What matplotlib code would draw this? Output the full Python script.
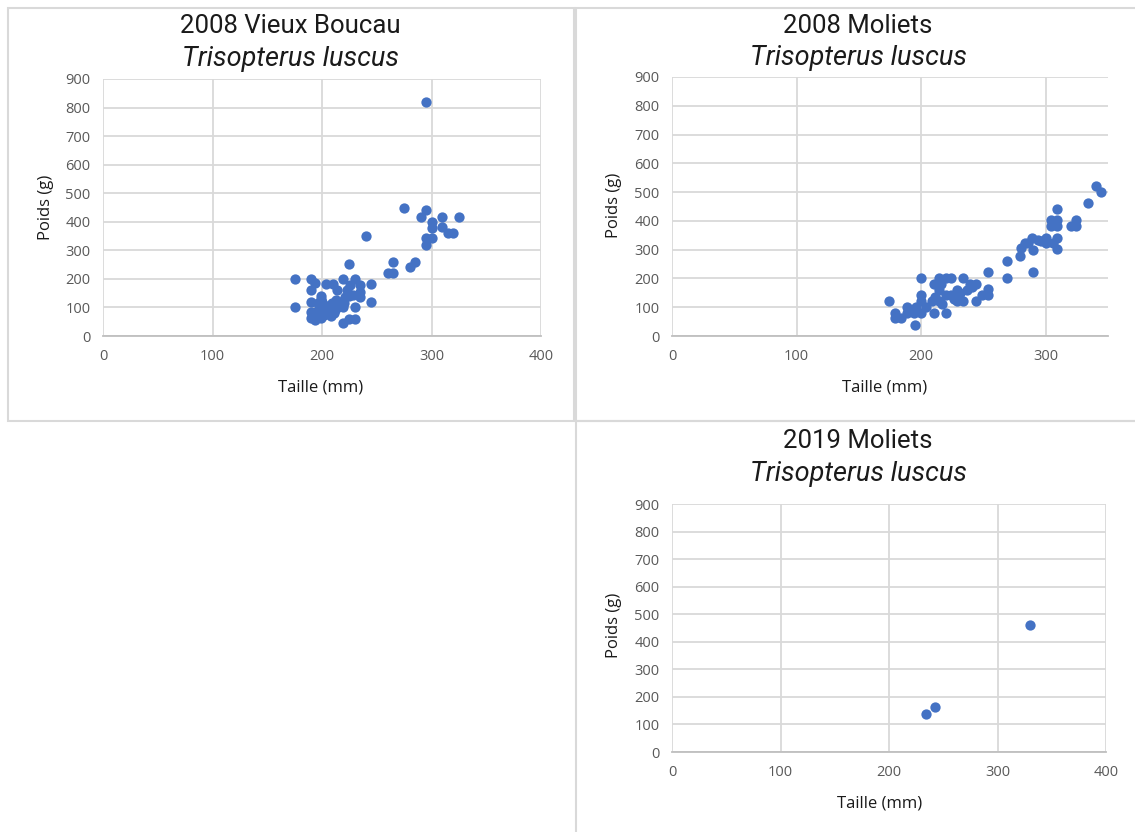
import matplotlib.pyplot as plt
from matplotlib.patches import Rectangle

# Vieux Boucau 2008 - taille (mm), poids (g)
vb_taille = [295, 275, 295, 290, 310, 325, 300, 300, 310, 315, 320, 295, 300, 295,
             240, 265, 285, 280, 260, 265, 225, 175, 175, 190, 190, 190, 190, 194,
             204, 210, 219, 230, 226, 235, 245, 235, 235, 225, 214, 199, 245, 230,
             219, 200, 209, 206, 199, 219, 225, 230, 194, 203, 211, 216, 221, 190,
             196, 194, 200, 205, 213, 220, 199, 208, 215, 223, 228, 202, 197, 212]
vb_poids = [820, 450, 442, 418, 418, 418, 400, 378, 383, 362, 362, 342, 342, 319,
            350, 260, 260, 240, 220, 220, 251, 199, 100, 199, 161, 120, 62, 185,
            181, 181, 199, 199, 179, 179, 181, 155, 138, 141, 161, 141, 118, 100,
            100, 120, 115, 85, 62, 44, 58, 58, 85, 103, 80, 120, 138, 85,
            115, 56, 95, 105, 125, 115, 130, 70, 100, 160, 145, 75, 110, 90]

# Moliets 2008
mo08_taille = [340, 344, 334, 309, 304, 309, 304, 309, 320, 324, 324, 309, 300, 294,
               289, 286, 283, 290, 280, 279, 309, 300, 306, 296, 269, 269, 290, 254,
               254, 254, 249, 244, 244, 239, 234, 237, 234, 229, 229, 224, 220, 214,
               210, 216, 214, 220, 224, 211, 209, 214, 220, 210, 200, 200, 200, 200,
               204, 196, 189, 194, 195, 174, 179, 179, 184, 189, 217, 231, 241, 226]
mo08_poids = [520, 500, 462, 441, 402, 402, 381, 381, 381, 402, 381, 340, 340, 334,
              340, 323, 323, 300, 305, 279, 302, 323, 323, 329, 259, 200, 221, 221,
              163, 143, 143, 120, 180, 180, 201, 160, 120, 120, 160, 201, 201, 201,
              180, 180, 160, 143, 143, 137, 120, 120, 79, 79, 200, 143, 120, 79,
              100, 100, 100, 79, 38, 120, 79, 62, 62, 79, 110, 150, 170, 130]

# Moliets 2019
mo19_taille = [234, 242, 330]
mo19_poids = [138, 165, 460]

x_ticks = [0, 100, 200, 300, 400]
y_ticks = [0, 100, 200, 300, 400, 500, 600, 700, 800, 900]

bleu = '#4472C4'
gris = '#D9D9D9'
tick_col = '#595959'

fig = plt.figure(figsize=(11.35, 8.32), dpi=100)

# chart area borders
for (x0, y0, x1, y1) in [(8, 8, 574, 421), (576, 8, 1140, 421), (576, 421, 1140, 840)]:
    fig.patches.append(Rectangle((x0 / 1135, 1 - y1 / 832), (x1 - x0) / 1135, (y1 - y0) / 832,
                                 transform=fig.transFigure, fill=False,
                                 edgecolor=gris, linewidth=1.5))


def panel(rect, taille, poids, titre, xmax, tx, ty1, ty2, ylx, yly, xlx, xly):
    ax = fig.add_axes(rect)
    ax.scatter(taille, poids, s=55, color=bleu, zorder=3, linewidths=0, clip_on=False)
    ax.set_xlim(0, xmax)
    ax.set_ylim(0, 900)
    ax.set_xticks([t for t in x_ticks if t <= xmax])
    ax.set_yticks(y_ticks)
    ax.grid(True, color=gris, linewidth=1.3, zorder=0)
    for s in ['left', 'right', 'top']:
        ax.spines[s].set_visible(False)
    ax.spines['bottom'].set_color('#BFBFBF')
    ax.spines['bottom'].set_linewidth(1.3)
    ax.tick_params(length=0, labelsize=10.5, labelcolor=tick_col, pad=9)
    for lab in ax.get_xticklabels() + ax.get_yticklabels():
        lab.set_family('Open Sans')
    fig.text(tx / 1135, 1 - ty1 / 832, titre, ha='center', va='center',
             fontsize=18.5, family='Roboto', color='#1a1a1a')
    fig.text(tx / 1135, 1 - ty2 / 832, 'Trisopterus luscus', ha='center', va='center',
             fontsize=19.5, family='Roboto', style='italic', color='#1a1a1a')
    fig.text(ylx / 1135, 1 - yly / 832, 'Poids (g)', rotation=90, ha='center', va='center',
             fontsize=12, family='Open Sans', color='#1a1a1a')
    fig.text(xlx / 1135, 1 - xly / 832, 'Taille (mm)', ha='center', va='center',
             fontsize=12, family='Open Sans', color='#1a1a1a')
    return ax


panel([103 / 1135, 1 - 336 / 832, 438 / 1135, 257 / 832], vb_taille, vb_poids,
      '2008 Vieux Boucau', 400, 290, 26, 59, 46, 207, 321, 387)
panel([672 / 1135, 1 - 336 / 832, 436 / 1135, 259 / 832], mo08_taille, mo08_poids,
      '2008 Moliets', 350, 858, 26, 58, 614, 205, 885, 387)
panel([672 / 1135, 1 - 752 / 832, 434 / 1135, 248 / 832], mo19_taille, mo19_poids,
      '2019 Moliets', 400, 858, 441, 474, 614, 625, 880, 803)

fig.savefig('out.png', dpi=100)
